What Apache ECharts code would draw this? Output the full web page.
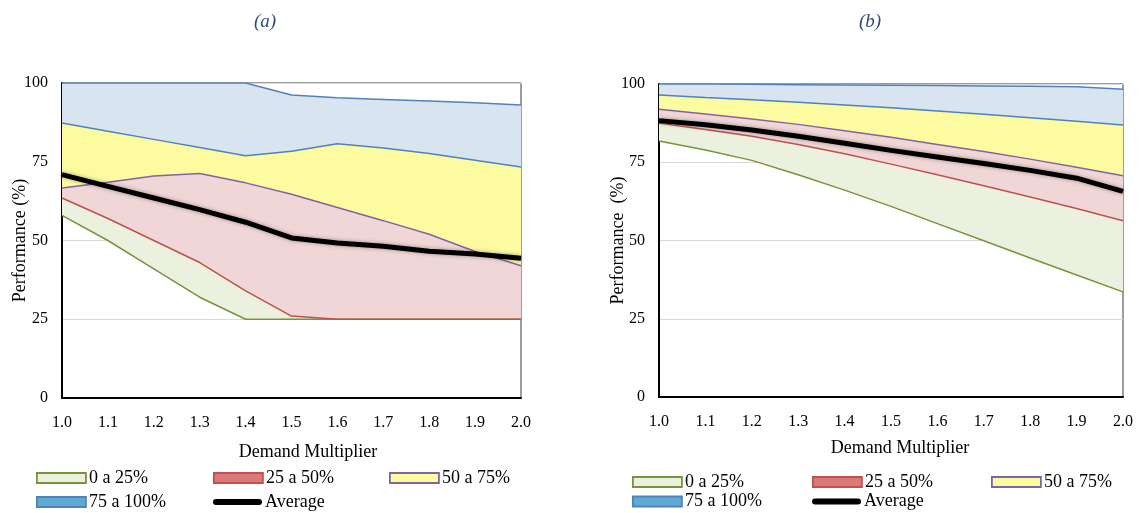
<!DOCTYPE html>
<html>
<head>
<meta charset="utf-8">
<script src="https://cdn.jsdelivr.net/npm/echarts@6/dist/echarts.min.js"></script>
<style>
html,body{margin:0;padding:0;background:#fff;}
#chart{width:1140px;height:513px;}
</style>
</head>
<body>
<div id="chart"></div>
<script>
// ---------- data ----------
const categories = ['1.0','1.1','1.2','1.3','1.4','1.5','1.6','1.7','1.8','1.9','2.0'];
const bandNames = ['0 a 25%','25 a 50%','50 a 75%','75 a 100%'];
const averageName = 'Average';
const panelTitles = ['(a)','(b)'];
const xAxisName = 'Demand Multiplier';
const yAxisNames = ['Performance (%)','Performance  (%)'];

// panel (a)
const aMin = [58, 50, 41, 32, 25, 25, 25, 25, 25, 25, 25];
const aQ25 = [63.5, 57, 50, 43, 34, 26, 25, 25, 25, 25, 25];
const aMed = [66.7, 68.5, 70.5, 71.3, 68.3, 64.7, 60.5, 56.3, 52, 46.5, 42];
const aQ75 = [87.3, 84.7, 82.1, 79.5, 76.9, 78.3, 80.7, 79.4, 77.6, 75.5, 73.3];
const aMax = [100, 100, 100, 100, 100, 96.2, 95.3, 94.8, 94.3, 93.7, 93];
const aAvg = [70.9, 67.2, 63.5, 59.8, 55.8, 50.8, 49.2, 48.2, 46.6, 45.7, 44.4];

// panel (b)
const bMin = [81.8, 78.9, 75.6, 71.0, 66.1, 60.9, 55.4, 49.9, 44.4, 39.0, 33.6];
const bQ25 = [87.5, 85.5, 83.3, 80.7, 77.7, 74.4, 71, 67.5, 63.9, 60.2, 56.3];
const bMed = [91.9, 90.4, 88.8, 87.1, 85.1, 83, 80.7, 78.4, 76, 73.4, 70.7];
const bQ75 = [96.5, 95.7, 95, 94.2, 93.3, 92.4, 91.4, 90.3, 89.2, 88.1, 86.9];
const bMax = [100, 100, 99.9, 99.8, 99.7, 99.6, 99.5, 99.4, 99.3, 99.1, 98.3];
const bAvg = [88.3, 87, 85.3, 83.3, 81.1, 78.8, 76.7, 74.6, 72.4, 69.9, 65.7];

// ---------- styling ----------
const FONT = '"Liberation Serif", "Times New Roman", serif';
const C = {
  greenLine:'#77933C', greenFill:'#EBF1DE',
  redLine:'#C0504D', redFill:'#F1D6D7', redIcon:'#D9797A',
  purpleLine:'#8064A2', yellowFill:'#FDFBA0',
  blueLine:'#4F81BD', blueFill:'#D8E5F1', blueIcon:'#5FAAD2'
};

const diff = (hi, lo) => hi.map((v,i) => Math.round((v - lo[i]) * 100) / 100);

const panels = [
  {min:aMin,q25:aQ25,med:aMed,q75:aQ75,max:aMax,avg:aAvg,
   grid:{left:62, top:83, width:459, height:315}, yNameGap:33,
   title:[265,22], xName:[308,452],
   legendCols:[36,213,389], legendRows:[479,503]},
  {min:bMin,q25:bQ25,med:bMed,q75:bQ75,max:bMax,avg:bAvg,
   grid:{left:659, top:84, width:464, height:313}, yNameGap:32,
   title:[870,22], xName:[900,448],
   legendCols:[632,812,991], legendRows:[483,502.5]}
];

const grids=[], xAxes=[], yAxes=[], series=[], legends=[], graphics=[];

panels.forEach((p, i) => {
  grids.push(Object.assign({show:true, borderColor:'#3a3a3a', borderWidth:1, backgroundColor:'#fff'}, p.grid));
  xAxes.push({
    type:'category', gridIndex:i, data:categories, boundaryGap:false,
    axisLine:{show:true, lineStyle:{color:'#000', width:2}},
    axisTick:{show:false},
    axisLabel:{color:'#000', fontFamily:FONT, fontSize:16, margin:17},
    splitLine:{show:false}
  });
  yAxes.push({
    type:'value', gridIndex:i, min:0, max:100, interval:25,
    axisLine:{show:true, lineStyle:{color:'#000', width:2}},
    axisTick:{show:false},
    axisLabel:{color:'#000', fontFamily:FONT, fontSize:16, margin:14},
    splitLine:{show:true, lineStyle:{color:'#d9d9d9', width:1.2}},
    name:yAxisNames[i], nameLocation:'middle', nameGap:p.yNameGap, nameRotate:90,
    nameMoveOverlap:false,
    nameTextStyle:{color:'#000', fontFamily:FONT, fontSize:18}
  });
  const stack = 'stack' + i;
  const common = {type:'line', xAxisIndex:i, yAxisIndex:i, stack:stack, symbol:'none', silent:true};
  series.push(Object.assign({}, common, {
    name:'_base'+i, data:p.min, lineStyle:{color:C.greenLine, width:1.5}
  }));
  series.push(Object.assign({}, common, {
    name:bandNames[0], data:diff(p.q25,p.min),
    lineStyle:{color:C.redLine, width:1.5}, itemStyle:{color:C.greenFill},
    areaStyle:{color:C.greenFill, opacity:1}
  }));
  series.push(Object.assign({}, common, {
    name:bandNames[1], data:diff(p.med,p.q25),
    lineStyle:{color:C.purpleLine, width:1.5}, itemStyle:{color:C.redIcon},
    areaStyle:{color:C.redFill, opacity:1}
  }));
  series.push(Object.assign({}, common, {
    name:bandNames[2], data:diff(p.q75,p.med),
    lineStyle:{color:C.blueLine, width:1.5}, itemStyle:{color:C.yellowFill},
    areaStyle:{color:C.yellowFill, opacity:1}
  }));
  series.push(Object.assign({}, common, {
    name:bandNames[3], data:diff(p.max,p.q75),
    lineStyle:{color:C.blueLine, width:1.5}, itemStyle:{color:C.blueIcon},
    areaStyle:{color:C.blueFill, opacity:1}
  }));
  series.push({
    type:'line', name:averageName, xAxisIndex:i, yAxisIndex:i, data:p.avg,
    symbol:'none', silent:true, z:5,
    lineStyle:{color:'#000', width:5, shadowBlur:4, shadowColor:'rgba(0,0,0,0.35)'},
    itemStyle:{color:'#000'}
  });

  const iconDefs = [
    {name:bandNames[0], icon:'rect', itemStyle:{color:C.greenFill, borderColor:C.greenLine, borderWidth:1.8}},
    {name:bandNames[1], icon:'rect', itemStyle:{color:C.redIcon, borderColor:C.redLine, borderWidth:1.8}},
    {name:bandNames[2], icon:'rect', itemStyle:{color:C.yellowFill, borderColor:C.purpleLine, borderWidth:1.8}},
    {name:bandNames[3], icon:'rect', itemStyle:{color:C.blueIcon, borderColor:C.blueLine, borderWidth:1.8}},
    {name:averageName, icon:'path://M3,0 h43 a3,3 0 0 1 0,6 h-43 a3,3 0 0 1 0,-6 z', itemStyle:{color:'#000', borderWidth:0}}
  ];
  iconDefs.forEach((d, k) => {
    const col = k % 3, row = Math.floor(k / 3);
    legends.push({
      left:p.legendCols[col], top:p.legendRows[row] - 10, padding:0,
      itemWidth:49, itemHeight:10, itemGap:4, selectedMode:false,
      textStyle:{color:'#000', fontFamily:FONT, fontSize:18, padding:[0,0,0,-2]},
      data:[d]
    });
  });
  graphics.push({
    type:'text', x:p.title[0], y:p.title[1],
    style:{text:panelTitles[i], align:'center', verticalAlign:'middle',
      fontFamily:FONT, fontStyle:'italic', fontSize:19, fill:'#2E4C7C'}
  });
  graphics.push({
    type:'text', x:p.xName[0], y:p.xName[1],
    style:{text:xAxisName, align:'center', verticalAlign:'middle',
      fontFamily:FONT, fontSize:18, fill:'#000'}
  });
});

const chart = echarts.init(document.getElementById('chart'), null, {renderer:'canvas'});
chart.setOption({
  animation:false,
  backgroundColor:'#fff',
  grid:grids, xAxis:xAxes, yAxis:yAxes, series:series,
  legend:legends, graphic:graphics
});
</script>
</body>
</html>
